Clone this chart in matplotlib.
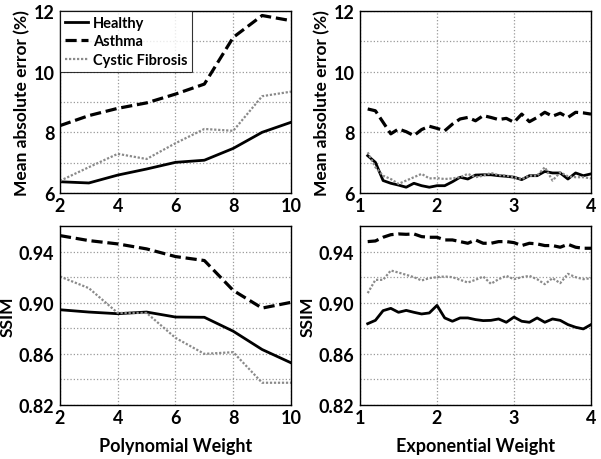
import numpy as np
import matplotlib
matplotlib.use("Agg")
import matplotlib.pyplot as plt
from matplotlib.ticker import MultipleLocator

plt.rcParams['font.family'] = ['Lato', 'DejaVu Sans']
plt.rcParams['font.weight'] = 'bold'

# polynomial weight
poly_x = [2, 3, 4, 5, 6, 7, 8, 9, 10]
poly_mae_healthy = [6.37, 6.33, 6.59, 6.79, 7.01, 7.08, 7.47, 8.0, 8.33]
poly_mae_asthma = [8.22, 8.55, 8.79, 8.97, 9.26, 9.59, 11.13, 11.85, 11.68]
poly_mae_cf = [6.4, 6.85, 7.29, 7.12, 7.64, 8.11, 8.05, 9.19, 9.34]
poly_ssim_healthy = [0.8945, 0.8927, 0.8914, 0.8927, 0.8888, 0.8886, 0.8777, 0.8634, 0.853]
poly_ssim_asthma = [0.9525, 0.9486, 0.946, 0.9421, 0.9361, 0.933, 0.9096, 0.8958, 0.9003]
poly_ssim_cf = [0.9205, 0.9114, 0.892, 0.892, 0.8725, 0.86, 0.8613, 0.8374, 0.8374]

# exponential weight
exp_x = [1.1, 1.2, 1.3, 1.4, 1.5, 1.6, 1.7, 1.8, 1.9, 2.0,
         2.1, 2.2, 2.3, 2.4, 2.5, 2.6, 2.7, 2.8, 2.9, 3.0,
         3.1, 3.2, 3.3, 3.4, 3.5, 3.6, 3.7, 3.8, 3.9, 4.0]
exp_mae_asthma = [8.77, 8.71, 8.33, 7.95, 8.11, 8.02, 7.89, 8.09, 8.2, 8.13,
                  8.05, 8.27, 8.44, 8.49, 8.38, 8.55, 8.49, 8.42, 8.46, 8.33,
                  8.6, 8.35, 8.49, 8.66, 8.53, 8.63, 8.49, 8.66, 8.64, 8.6]
exp_mae_healthy = [7.23, 7.01, 6.41, 6.32, 6.26, 6.19, 6.32, 6.24, 6.19, 6.24,
                   6.24, 6.37, 6.52, 6.46, 6.59, 6.6, 6.6, 6.57, 6.55, 6.52,
                   6.44, 6.57, 6.57, 6.71, 6.66, 6.66, 6.46, 6.66, 6.57, 6.63]
exp_mae_cf = [7.34, 6.85, 6.57, 6.46, 6.3, 6.41, 6.52, 6.63, 6.48, 6.49,
              6.46, 6.48, 6.52, 6.63, 6.52, 6.57, 6.66, 6.59, 6.57, 6.52,
              6.46, 6.57, 6.57, 6.85, 6.41, 6.68, 6.55, 6.52, 6.52, 6.48]
exp_ssim_asthma = [0.9478, 0.9483, 0.9512, 0.9532, 0.9538, 0.9535, 0.9538, 0.9517, 0.9512, 0.9512,
                   0.9491, 0.9491, 0.9478, 0.9465, 0.9491, 0.9465, 0.9465, 0.9478, 0.9478, 0.947,
                   0.9447, 0.9465, 0.946, 0.9447, 0.9447, 0.9434, 0.9457, 0.9434, 0.9426, 0.9426]
exp_ssim_cf = [0.9075, 0.9179, 0.9179, 0.9252, 0.9236, 0.9218, 0.92, 0.9174, 0.9192, 0.92,
               0.9205, 0.92, 0.9179, 0.9158, 0.9179, 0.9205, 0.9148, 0.9184, 0.921, 0.9184,
               0.92, 0.921, 0.9184, 0.9145, 0.9192, 0.9153, 0.9226, 0.92, 0.9184, 0.9192]
exp_ssim_healthy = [0.8836, 0.8862, 0.8938, 0.8956, 0.8925, 0.894, 0.8925, 0.8912, 0.892, 0.8979,
                    0.8881, 0.8855, 0.8881, 0.8881, 0.8868, 0.886, 0.8862, 0.8873, 0.8847, 0.8888,
                    0.8855, 0.8847, 0.8881, 0.8847, 0.8873, 0.8862, 0.8829, 0.8808, 0.8795, 0.8829]

fig = plt.figure(figsize=(6.01, 4.60), dpi=100)
w = 0.3844
ax1 = fig.add_axes([0.0998, 0.5783, w, 0.3957])
ax2 = fig.add_axes([0.599, 0.5783, w, 0.3957])
ax3 = fig.add_axes([0.0998, 0.1174, w, 0.3891])
ax4 = fig.add_axes([0.599, 0.1174, w, 0.3891])

def draw(ax, x, h, a, c):
    ax.plot(x, h, color='black', lw=2.0, ls='-', label='Healthy')
    ax.plot(x, a, color='black', lw=2.3, ls=(0, (3.5, 1.5)), label='Asthma')
    ax.plot(x, c, color='#8a8a8a', lw=1.6, ls=(0, (1, 0.8)), label='Cystic Fibrosis')

draw(ax1, poly_x, poly_mae_healthy, poly_mae_asthma, poly_mae_cf)
draw(ax2, exp_x, exp_mae_healthy, exp_mae_asthma, exp_mae_cf)
draw(ax3, poly_x, poly_ssim_healthy, poly_ssim_asthma, poly_ssim_cf)
draw(ax4, exp_x, exp_ssim_healthy, exp_ssim_asthma, exp_ssim_cf)

for ax in (ax1, ax2):
    ax.set_ylim(6, 12)
    ax.yaxis.set_major_locator(MultipleLocator(2))
    ax.yaxis.set_minor_locator(MultipleLocator(1))
    ax.set_ylabel('Mean absolute error (%)', fontsize=12.5, fontweight='bold', labelpad=2)
for ax in (ax3, ax4):
    ax.set_ylim(0.82, 0.96)
    ax.set_yticks([0.82, 0.86, 0.90, 0.94])
    ax.set_yticklabels(['0.82', '0.86', '0.90', '0.94'])
    ax.set_yticks([0.84, 0.88, 0.92], minor=True)
    ax.set_ylabel('SSIM', fontsize=12.5, fontweight='bold', labelpad=2)
for ax in (ax1, ax3):
    ax.set_xlim(2, 10)
    ax.set_xticks([2, 4, 6, 8, 10])
for ax in (ax2, ax4):
    ax.set_xlim(1, 4)
    ax.set_xticks([1, 2, 3, 4])

ax3.set_xlabel('Polynomial Weight', fontsize=13, fontweight='bold', labelpad=8)
ax4.set_xlabel('Exponential Weight', fontsize=13, fontweight='bold', labelpad=8)

for ax in (ax1, ax2, ax3, ax4):
    ax.grid(True, which='major', axis='both', color='#999999', ls=':', lw=0.9)
    ax.grid(True, which='minor', axis='y', color='#999999', ls=':', lw=0.9)
    ax.tick_params(which='both', length=0, labelsize=13)
    ax.tick_params(axis='y', pad=4)
    ax.tick_params(axis='x', pad=3)
    for lab in ax.get_xticklabels() + ax.get_yticklabels():
        lab.set_fontweight('bold')
    for s in ax.spines.values():
        s.set_color('black')
        s.set_linewidth(1.0)

leg = ax1.legend(loc='upper left', fontsize=10.5, frameon=True, fancybox=False,
                 borderaxespad=0, handlelength=1.6, handletextpad=0.3,
                 borderpad=0.35, labelspacing=0.3)
leg.get_frame().set_edgecolor('black')
leg.get_frame().set_linewidth(0.8)
for t in leg.get_texts():
    t.set_fontweight('bold')

fig.savefig('out.png', dpi=100)
